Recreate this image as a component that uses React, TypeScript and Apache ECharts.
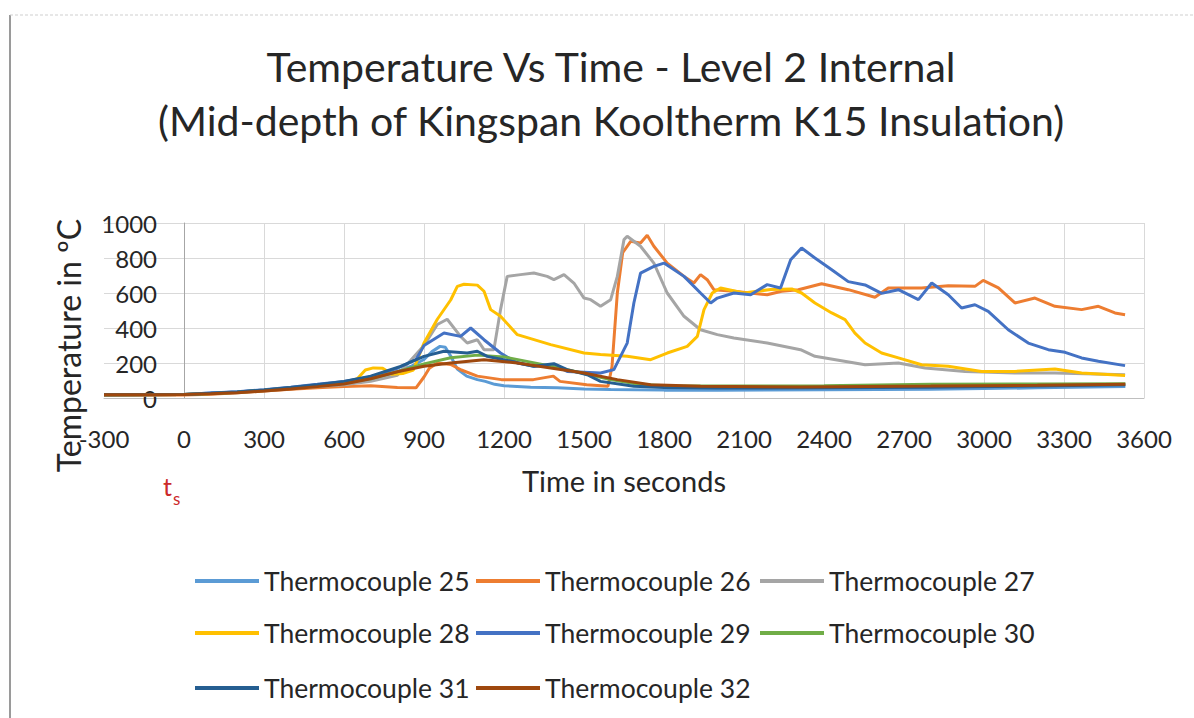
import React, { useEffect, useRef } from "react";
import * as echarts from "echarts";

const titleLines = ["Temperature Vs Time - Level 2 Internal", "(Mid-depth of Kingspan Kooltherm K15 Insulation)"];
const xAxisTitle = "Time in seconds";
const yAxisTitle = "Temperature in ºC";
const seriesNames = [
  "Thermocouple 25", "Thermocouple 26", "Thermocouple 27", "Thermocouple 28",
  "Thermocouple 29", "Thermocouple 30", "Thermocouple 31", "Thermocouple 32",
];
const seriesColors = ["#5B9BD5", "#ED7D31", "#A5A5A5", "#FFC000", "#4472C4", "#70AD47", "#255E91", "#9E480E"];

// [time (s), temperature (ºC)]
const tc25 = [[-300,18],[0,20],[100,28],[200,35],[300,45],[400,58],[500,72],[600,88],[700,110],[800,150],[850,180],[900,220],[930,265],[960,295],[980,290],[1000,240],[1025,165],[1060,125],[1100,105],[1130,95],[1165,78],[1200,70],[1300,62],[1400,58],[1500,52],[1600,48],[1800,45],[2000,45],[2400,47],[2800,50],[3200,58],[3530,65]];
const tc26 = [[-300,15],[0,17],[100,22],[200,30],[300,40],[400,50],[500,58],[600,65],[700,70],[800,60],[870,58],[900,120],[920,170],[950,200],[1000,192],[1040,160],[1100,125],[1190,105],[1310,105],[1385,125],[1410,95],[1510,76],[1590,67],[1605,180],[1625,600],[1645,830],[1675,895],[1712,886],[1737,930],[1762,867],[1812,771],[1875,695],[1912,657],[1937,705],[1962,676],[1987,619],[2062,610],[2187,590],[2241,610],[2304,619],[2391,653],[2491,619],[2591,576],[2641,629],[2766,629],[2866,642],[2966,638],[2997,672],[3054,629],[3116,543],[3191,571],[3266,524],[3366,505],[3429,524],[3491,486],[3529,476]];
const tc27 = [[-300,18],[0,20],[100,25],[200,32],[300,42],[400,55],[500,65],[600,75],[700,95],[800,130],[900,300],[950,420],[987,450],[1037,352],[1062,314],[1100,333],[1125,276],[1162,276],[1187,505],[1212,695],[1262,705],[1312,714],[1362,695],[1387,676],[1425,705],[1462,657],[1500,571],[1525,562],[1562,524],[1600,562],[1625,695],[1650,905],[1662,924],[1712,867],[1762,771],[1812,600],[1875,467],[1937,390],[2000,362],[2062,343],[2187,314],[2312,276],[2366,238],[2554,190],[2679,200],[2779,171],[2929,152],[3116,143],[3266,143],[3529,133]];
const tc28 = [[-300,18],[0,20],[100,25],[200,33],[300,43],[400,55],[500,68],[600,85],[650,110],[680,160],[710,172],[745,170],[780,135],[820,140],[860,160],[900,314],[950,450],[1000,560],[1025,638],[1050,650],[1100,645],[1125,610],[1150,505],[1187,467],[1250,362],[1375,305],[1500,257],[1562,248],[1662,238],[1750,219],[1812,257],[1887,295],[1925,352],[1950,505],[1981,600],[2012,629],[2100,600],[2200,620],[2279,623],[2316,600],[2366,543],[2429,486],[2479,448],[2516,371],[2554,314],[2616,257],[2679,229],[2766,190],[2866,181],[2991,152],[3116,152],[3266,166],[3366,143],[3529,128]];
const tc29 = [[-300,18],[0,20],[100,28],[200,36],[300,47],[400,62],[500,78],[600,95],[700,120],[800,170],[870,220],[900,300],[975,371],[1037,352],[1075,400],[1125,333],[1187,257],[1250,200],[1312,181],[1387,190],[1437,152],[1562,143],[1612,162],[1662,314],[1687,543],[1712,714],[1762,752],[1800,771],[1875,695],[1937,600],[1975,543],[2000,571],[2062,600],[2125,590],[2187,648],[2237,629],[2275,790],[2316,857],[2366,800],[2429,733],[2491,665],[2554,646],[2616,598],[2679,619],[2754,562],[2804,657],[2866,590],[2916,514],[2966,533],[3016,495],[3091,390],[3166,314],[3241,276],[3304,261],[3366,229],[3429,210],[3529,185]];
const tc30 = [[-300,18],[0,20],[100,25],[200,33],[300,44],[400,57],[500,70],[600,88],[700,110],[800,150],[900,195],[1000,230],[1100,245],[1200,235],[1300,205],[1400,175],[1500,140],[1600,105],[1700,80],[1800,70],[2000,68],[2400,70],[2800,78],[3200,80],[3530,82]];
const tc31 = [[-300,18],[0,20],[100,27],[200,35],[300,46],[400,60],[500,76],[600,95],[700,125],[812,181],[900,238],[975,267],[1062,257],[1100,267],[1137,238],[1225,210],[1312,181],[1387,196],[1437,162],[1512,133],[1562,95],[1687,67],[1800,60],[2000,57],[2400,58],[2800,62],[3200,68],[3530,75]];
const tc32 = [[-300,18],[0,20],[100,24],[200,30],[300,40],[400,52],[500,65],[600,80],[700,110],[800,150],[900,181],[1000,200],[1125,219],[1250,200],[1375,171],[1500,143],[1625,105],[1750,76],[1937,67],[2312,63],[2800,68],[3200,73],[3530,78]];
const seriesData = [tc25, tc26, tc27, tc28, tc29, tc30, tc31, tc32];

const FONT = "Lato, 'Open Sans', sans-serif";

export default function App() {
  const ref = useRef<HTMLDivElement>(null);
  useEffect(() => {
    if (!ref.current) return;
    const chart = echarts.init(ref.current, null, { renderer: "svg" });
    const legendCols = [195, 476, 760];
    const legendRows = [566, 618, 673];
    const legends = seriesNames.map((name, i) => ({
      data: [name],
      left: legendCols[i % 3],
      top: legendRows[Math.floor(i / 3)],
      padding: 0,
      icon: "rect",
      itemWidth: 64,
      itemHeight: 4,
      textStyle: { fontFamily: FONT, fontSize: 26.5, color: "#262626", lineHeight: 30 },
    }));
    chart.setOption({
      animation: false,
      backgroundColor: "#ffffff",
      title: {
        text: titleLines.join("\n"),
        left: 606,
        top: 34,
        textAlign: "center",
        textStyle: { fontFamily: FONT, fontSize: 41, fontWeight: "normal", color: "#262626", lineHeight: 54 },
      },
      legend: legends,
      grid: { left: 104, top: 223, width: 1040, height: 175, containLabel: false, outerBoundsMode: "none" },
      xAxis: {
        type: "value",
        min: -300,
        max: 3600,
        interval: 300,
        name: xAxisTitle,
        nameLocation: "middle",
        nameGap: 68,
        nameTextStyle: { fontFamily: FONT, fontSize: 29, color: "#262626" },
        axisLine: { show: true, lineStyle: { color: "#bfbfbf", width: 1 } },
        axisTick: { show: false },
        axisLabel: { margin: 28, fontFamily: FONT, fontSize: 24, color: "#262626", formatter: (v: number) => String(v) },
        splitLine: { show: true, showMinLine: false, lineStyle: { color: "#d9d9d9", width: 1 } },
      },
      yAxis: {
        type: "value",
        min: 0,
        max: 1000,
        interval: 200,
        name: yAxisTitle,
        nameLocation: "middle",
        nameGap: 20,
        nameMoveOverlap: false,
        nameRotate: 90,
        nameTextStyle: { fontFamily: FONT, fontSize: 32, color: "#262626", padding: [0, 70, 0, 0] },
        axisLine: { show: true, onZero: true, lineStyle: { color: "#a6a6a6", width: 1 } },
        axisTick: { show: false },
        axisLabel: { margin: -53, fontFamily: FONT, fontSize: 24, color: "#262626", formatter: (v: number) => String(v) },
        splitLine: { show: true, lineStyle: { color: "#d9d9d9", width: 1 } },
      },
      series: seriesNames.map((name, i) => ({
        name,
        type: "line",
        data: seriesData[i],
        symbol: "none",
        smooth: false,
        color: seriesColors[i],
        lineStyle: { width: 3, color: seriesColors[i] },
      })),
      graphic: [
        { type: "line", shape: { x1: 10, y1: 15, x2: 10, y2: 718 }, style: { stroke: "#9a9a9a", lineWidth: 2 } },
        { type: "line", shape: { x1: 10, y1: 15, x2: 1194, y2: 15 }, style: { stroke: "#cfcfcf", lineWidth: 1, lineDash: [3, 2] } },
        { type: "text", left: 163, top: 473, style: { text: "t", fontFamily: FONT, fontSize: 25, fill: "#cc2a2a" } },
        { type: "text", left: 173, top: 490, style: { text: "s", fontFamily: FONT, fontSize: 17, fill: "#cc2a2a" } },
      ],
    });
    return () => chart.dispose();
  }, []);
  return <div ref={ref} style={{ position: "fixed", left: 0, top: 0, width: 1194, height: 718 }} />;
}
